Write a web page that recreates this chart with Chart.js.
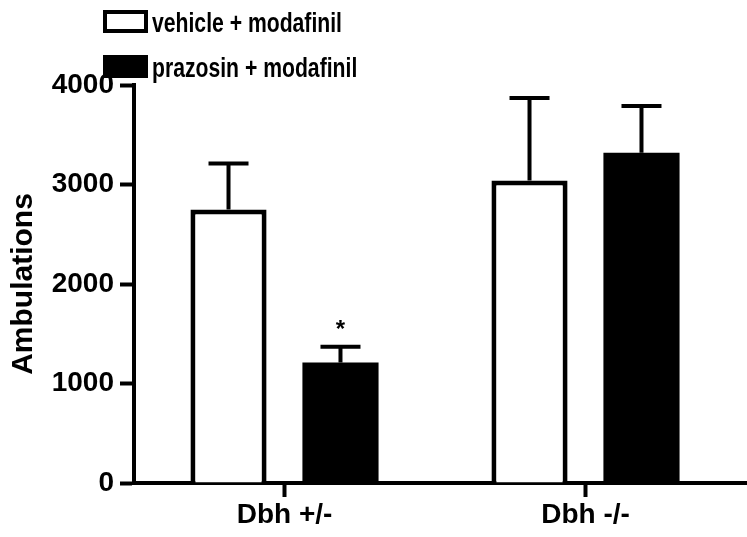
<!DOCTYPE html>
<html>
<head>
<meta charset="utf-8">
<script src="https://cdn.jsdelivr.net/npm/chart.js@4.4.1/dist/chart.umd.min.js"></script>
<style>
  html, body { margin: 0; padding: 0; background: #fff; }
  canvas { display: block; }
</style>
</head>
<body>
<canvas id="ambChart" width="747" height="537"></canvas>
<script>
const categories = ['Dbh +/-', 'Dbh -/-'];
const seriesNames = ['vehicle + modafinil', 'prazosin + modafinil'];
const vehicleValues = [2750, 3040];
const vehicleErr = [460, 830];
const prazosinValues = [1210, 3320];
const prazosinErr = [160, 470];
const vehicleSig = ['', ''];
const prazosinSig = ['*', ''];
const yTicks = [0, 1000, 2000, 3000, 4000];

const FONT = '"Liberation Sans", Arial, Helvetica, sans-serif';

// SEM bars on top of each bar, plus significance stars
const errorBars = {
  id: 'errorBars',
  afterDatasetsDraw(chart) {
    const { ctx } = chart;
    const y = chart.scales.y;
    chart.data.datasets.forEach((ds, i) => {
      const meta = chart.getDatasetMeta(i);
      meta.data.forEach((bar, j) => {
        const top = y.getPixelForValue(ds.data[j] + ds.err[j]);
        ctx.save();
        ctx.strokeStyle = '#000';
        ctx.lineWidth = 4;
        ctx.beginPath();
        ctx.moveTo(bar.x, bar.y);
        ctx.lineTo(bar.x, top);
        ctx.moveTo(bar.x - 20, top);
        ctx.lineTo(bar.x + 20, top);
        ctx.stroke();
        if (ds.sig[j]) {
          ctx.fillStyle = '#000';
          ctx.font = 'bold 24px ' + FONT;
          ctx.textAlign = 'center';
          ctx.textBaseline = 'alphabetic';
          ctx.fillText(ds.sig[j], bar.x, top - 10);
        }
        ctx.restore();
      });
    });
  }
};

// x axis line runs on to the right edge, legend sits above the plot
const extras = {
  id: 'extras',
  afterDraw(chart) {
    const { ctx, chartArea } = chart;
    ctx.save();
    ctx.strokeStyle = '#000';
    ctx.lineWidth = 4;
    ctx.beginPath();
    ctx.moveTo(chartArea.right - 2, chartArea.bottom);
    ctx.lineTo(chart.width, chartArea.bottom);
    ctx.stroke();

    ctx.font = 'bold 28px ' + FONT;
    const sx = 190 / ctx.measureText(seriesNames[0]).width;
    chart.data.datasets.forEach((ds, i) => {
      const by = 10 + i * 45;
      if (ds.backgroundColor === '#000') {
        ctx.fillStyle = '#000';
        ctx.fillRect(103, by, 45, 23);
      } else {
        ctx.strokeStyle = '#000';
        ctx.lineWidth = 4;
        ctx.strokeRect(105, by + 2, 41, 19);
      }
      ctx.save();
      ctx.translate(152, by + 22);
      ctx.scale(sx, 1);
      ctx.fillStyle = '#000';
      ctx.textBaseline = 'alphabetic';
      ctx.textAlign = 'left';
      ctx.fillText(ds.label, 0, 0);
      ctx.restore();
    });
    ctx.restore();
  }
};

new Chart(document.getElementById('ambChart'), {
  type: 'bar',
  data: {
    labels: categories,
    datasets: [
      {
        label: seriesNames[0],
        data: vehicleValues,
        err: vehicleErr,
        sig: vehicleSig,
        backgroundColor: '#fff',
        borderColor: '#000',
        borderWidth: 5
      },
      {
        label: seriesNames[1],
        data: prazosinValues,
        err: prazosinErr,
        sig: prazosinSig,
        backgroundColor: '#000',
        borderColor: '#000',
        borderWidth: 0
      }
    ]
  },
  options: {
    responsive: false,
    animation: false,
    categoryPercentage: 0.744,
    barPercentage: 0.68,
    layout: { padding: { top: 85, right: 11, left: 0, bottom: 0 } },
    plugins: {
      legend: { display: false },
      tooltip: { enabled: false }
    },
    scales: {
      x: {
        afterFit(scale) { scale.height = 54; },
        grid: {
          offset: false,
          drawOnChartArea: false,
          drawTicks: true,
          tickLength: 14,
          tickColor: '#000',
          tickWidth: 4
        },
        border: { display: true, color: '#000', width: 4 },
        ticks: {
          color: '#000',
          padding: 1,
          font: { family: FONT, size: 28, weight: 'bold' }
        }
      },
      y: {
        min: 0,
        max: 4000,
        afterFit(scale) { scale.width = 134; },
        afterBuildTicks(scale) { scale.ticks = yTicks.map(v => ({ value: v })); },
        grid: {
          drawOnChartArea: false,
          drawTicks: true,
          tickLength: 14,
          tickColor: '#000',
          tickWidth: 4
        },
        border: { display: true, color: '#000', width: 4 },
        ticks: {
          color: '#000',
          padding: 6,
          callback: v => String(v),
          font: { family: FONT, size: 28, weight: 'bold' }
        },
        title: {
          display: true,
          text: 'Ambulations',
          color: '#000',
          padding: { top: 6, bottom: 0 },
          font: { family: FONT, size: 30, weight: 'bold' }
        }
      }
    }
  },
  plugins: [errorBars, extras]
});
</script>
</body>
</html>
